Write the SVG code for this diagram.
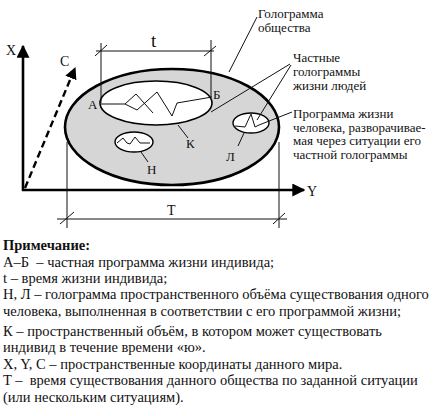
<svg xmlns="http://www.w3.org/2000/svg" width="440" height="416" viewBox="0 0 440 416">
<style>
text{font-family:'Liberation Serif','DejaVu Serif',serif}
.t{font-size:13px;fill:#111}
.n{font-size:14.5px;fill:#111}
.b{font-weight:bold}
.ln{stroke:#111;stroke-width:1;fill:none}
.ax{stroke:#000;stroke-width:2.6;fill:none}
</style>
<defs>
<marker id="ah" viewBox="0 0 10 10" refX="9" refY="5" markerWidth="5" markerHeight="5" orient="auto" markerUnits="strokeWidth"><path d="M0,0 L10,5 L0,10 z" fill="#000"/></marker>
</defs>
<rect width="440" height="416" fill="#fff"/>
<g id="axes">
<line class="ax" x1="23" y1="191" x2="23" y2="46" marker-end="url(#ah)"/>
<line class="ax" x1="22" y1="190" x2="304" y2="190" marker-end="url(#ah)"/>
<line x1="25" y1="188" x2="75" y2="68" stroke="#000" stroke-width="2.4" stroke-dasharray="7,4" marker-end="url(#ah)"/>
<text class="t" x="6" y="55" style="font-size:14px">X</text>
<text class="t" x="307" y="196" style="font-size:14px">Y</text>
<text class="t" x="60" y="66" style="font-size:14px">C</text>
</g>
<g id="society">
<ellipse cx="172" cy="127" rx="107" ry="58" fill="#d6d6d6" stroke="#000" stroke-width="2.6"/>
</g>
<g id="K">
<ellipse cx="156" cy="103" rx="56" ry="22" fill="#fff" stroke="#000" stroke-width="1.6"/>
<path class="ln" d="M101,104 L125,104 L136,94 L153,113 M125,104 L137,110 L157,92 L172,116 L177,103 L212,97"/>
<text class="t" x="88" y="109">А</text>
<text class="t" x="213" y="99">Б</text>
<text class="t" x="186" y="148">К</text>
</g>
<g id="N">
<ellipse cx="134" cy="142" rx="19" ry="10" fill="#fff" stroke="#000" stroke-width="1.4"/>
<path class="ln" d="M117,143 L123,138 L127,143 L130,144 L135,137 L140,143 L150,143"/>
<text class="t" x="147" y="174">Н</text>
</g>
<g id="L">
<ellipse cx="251" cy="123" rx="18" ry="10" fill="#fff" stroke="#000" stroke-width="1.4"/>
<path class="ln" d="M235,126 L245,127 L251,114 L255,127 L259,125"/>
<text class="t" x="226" y="161">Л</text>
</g>
<g id="labels">
<text class="t" x="258" y="18">Голограмма</text>
<text class="t" x="258" y="32">общества</text>
<text class="t" x="293" y="62">Частные</text>
<text class="t" x="293" y="76">голограммы</text>
<text class="t" x="293" y="90">жизни людей</text>
<text class="t" x="293" y="118">Программа жизни</text>
<text class="t" x="293" y="131.5">человека, разворачивае-</text>
<text class="t" x="293" y="145">мая через ситуации его</text>
<text class="t" x="293" y="158.5">частной голограммы</text>
</g>
<g id="connectors">
<line class="ln" x1="257" y1="17" x2="229" y2="72"/>
<line class="ln" x1="290" y1="64" x2="211" y2="112"/>
<line class="ln" x1="291" y1="65" x2="257" y2="120"/>
<path class="ln" d="M259,125 L292,112"/>
<line class="ln" x1="178" y1="125" x2="188" y2="138"/>
<line class="ln" x1="141" y1="152" x2="148" y2="162"/>
<line class="ln" x1="244" y1="133" x2="238" y2="146"/>
</g>
<g id="t-dim">
<line class="ln" x1="101" y1="43" x2="101" y2="103"/>
<line class="ln" x1="211" y1="40" x2="211" y2="97"/>
<line class="ln" x1="96" y1="51" x2="214" y2="51"/>
<line class="ln" x1="95" y1="56" x2="107" y2="45"/>
<line class="ln" x1="204" y1="56" x2="216" y2="46"/>
<text class="t" x="151" y="47" style="font-size:19px">t</text>
</g>
<g id="T-dim">
<line class="ln" x1="67" y1="142" x2="67" y2="228"/>
<line class="ln" x1="279" y1="142" x2="279" y2="228"/>
<line class="ln" x1="57" y1="219" x2="287" y2="219"/>
<line class="ln" x1="60" y1="224" x2="74" y2="212"/>
<line class="ln" x1="273" y1="224" x2="285" y2="213"/>
<text class="t" x="167" y="215" style="font-size:14px">T</text>
</g>
<g id="note">
<text class="n b" x="3" y="250">Примечание:</text>
<text class="n" x="3" y="267">А–Б&#160; – частная программа жизни индивида;</text>
<text class="n" x="3" y="283">t – время жизни индивида;</text>
<text class="n" x="3" y="299">Н, Л – голограмма пространственного объёма существования одного</text>
<text class="n" x="3" y="316">человека, выполненная в соответствии с его программой жизни;</text>
<text class="n" x="3" y="336">К – пространственный объём, в котором может существовать</text>
<text class="n" x="3" y="352">индивид в течение времени «ю».</text>
<text class="n" x="3" y="369">X, Y, C – пространственные координаты данного мира.</text>
<text class="n" x="3" y="385">T –&#160; время существования данного общества по заданной ситуации</text>
<text class="n" x="3" y="402">(или нескольким ситуациям).</text>
</g>
</svg>
